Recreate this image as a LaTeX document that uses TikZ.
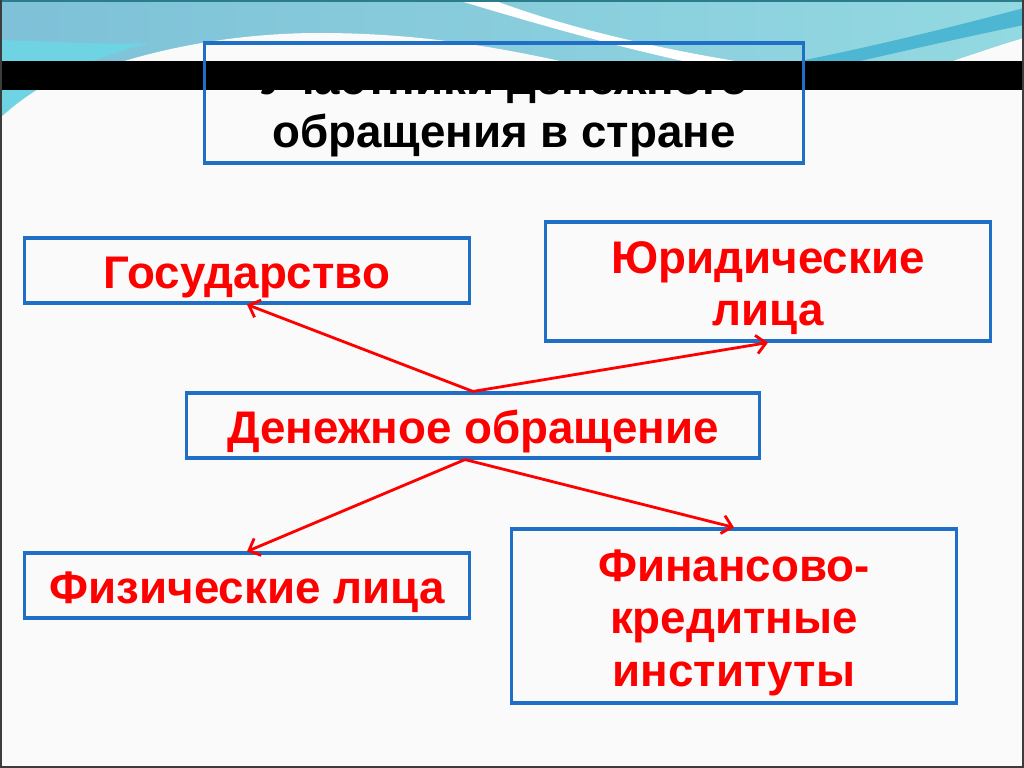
\documentclass[tikz,border=0pt]{standalone}
\usepackage{fontspec}
\setmainfont{Liberation Sans}
\usetikzlibrary{arrows.meta,positioning,calc}
\definecolor{figBorder}{HTML}{1F6FC6}
\definecolor{figRed}{HTML}{FF0000}
\definecolor{figSky}{HTML}{7EC1D8}
\definecolor{figLight}{HTML}{93D9E1}
\definecolor{figCyan}{HTML}{6ED3E3}
\definecolor{figWave}{HTML}{4DB6D2}
\definecolor{figTop}{HTML}{2B7D8C}
\definecolor{figFrame}{HTML}{3C3C3C}
\definecolor{figPaper}{HTML}{FAFAFA}

\begin{document}
\begin{tikzpicture}[
  x=0.025cm,y=-0.025cm,
  font=\fontsize{32.5}{37}\selectfont\bfseries,
  box/.style={draw=figBorder,line width=2.2pt,inner sep=0pt,align=center,
              text height=0.9cm,text depth=0pt,
              text=figRed,minimum width=11.1cm,minimum height=1.625cm},
  twolines/.style={text height=2.2cm},
  threelines/.style={text height=3.5cm},
  arr/.style={-{Straight Barb[length=2.4mm,width=4.6mm]},figRed,line width=2pt}
]
\useasboundingbox (0,0) rectangle (1024,768);
\fill[figPaper] (0,0) rectangle (1024,768);

% ---- Sky band with waves ----
\shade[left color=figSky,right color=figLight] (0,0) rectangle (1024,62);
\fill[figCyan] (0,40) .. controls (60,42) and (110,45) .. (150,43)
  .. controls (80,60) and (30,90) .. (0,118) -- cycle;
\fill[figPaper] (0,118) .. controls (60,75) and (180,33) .. (320,33)
  .. controls (420,33) and (500,48) .. (560,61) -- (560,125) -- (0,125) -- cycle;
\fill[figPaper] (950,62) .. controls (980,52) and (1000,45) .. (1024,38)
  -- (1024,62) -- cycle;
\fill[white] (457,0) -- (493,0) .. controls (560,25) and (640,45) .. (735,61)
  -- (683,61) .. controls (610,45) and (530,22) .. cycle;
\fill[figWave] (800,61) .. controls (880,45) and (960,25) .. (1024,8)
  -- (1024,25) .. controls (960,38) and (900,52) .. (860,61) -- cycle;
\draw[figTop,line width=1.5pt] (0,0.5) -- (1024,0.5);
\fill[black] (0,61) rectangle (1024,90);

% ---- Title ----
\node[draw=figBorder,line width=2.2pt,inner sep=0pt,align=center,
      text depth=0pt,twolines,
      minimum width=14.95cm,minimum height=3cm] (title) at (504,103)
      {Участники денежного\\обращения в стране};

% ---- Participants ----
\node[box] (state)   at (247,270.5) {Государство};
\node[box,twolines,minimum height=2.975cm] (legal) at (768,281.5) {Юридические\\лица};
\node[box,minimum width=14.3cm] (money) at (473,425.5) {Денежное обращение};
\node[box] (persons) at (247,585.5) {Физические лица};
\node[box,threelines,minimum height=4.35cm] (banks) at (734,616) {Финансово-\\кредитные\\институты};

% ---- Arrows ----
\draw[arr] (money.north) -- (state.south);
\draw[arr] (money.north) -- (legal.south);
\draw[arr] ([xshift=-0.2cm]money.south) -- (persons.north);
\draw[arr] ([xshift=-0.2cm]money.south) -- (banks.north);

\draw[figFrame,line width=1.2pt] (1,0) -- (1,767) -- (1023,767) -- (1023,0);
\end{tikzpicture}
\end{document}
